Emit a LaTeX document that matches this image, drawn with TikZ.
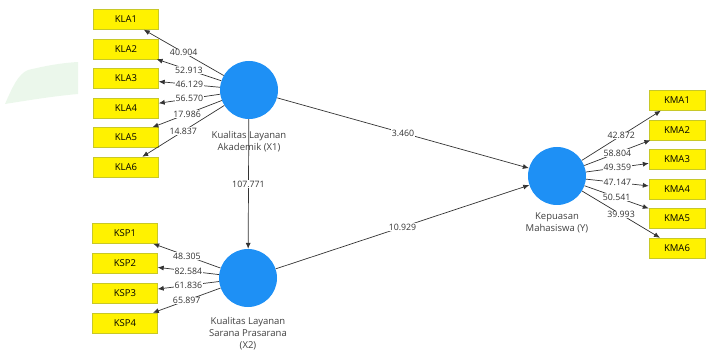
\documentclass[tikz,border=0pt]{standalone}
\usepackage{fontspec}
\setmainfont{Open Sans}
\usetikzlibrary{arrows.meta}
\definecolor{plsblue}{RGB}{30,144,245}
\definecolor{boxedge}{RGB}{200,200,40}
\definecolor{wmgreen}{RGB}{215,240,215}
\begin{document}
\begin{tikzpicture}[x=1pt,y=-1pt,
  lv/.style={circle, fill=plsblue, minimum size=58pt, inner sep=0pt},
  ind/.style={rectangle, fill=yellow, draw=boxedge, line width=0.4pt, minimum height=20pt, inner sep=0pt, font=\fontsize{9.5}{10}\selectfont},
  kla/.style={ind, minimum width=65pt},
  kma/.style={ind, minimum width=56pt},
  coef/.style={fill=white, inner sep=0.6pt, font=\fontsize{8.8}{10}\selectfont, text=black!80},
  conn/.style={draw=black!80, line width=0.7pt, -{Latex[length=6pt,width=5pt]}},
  lvlabel/.style={align=center, anchor=north, inner sep=0pt, font=\fontsize{9.5}{12}\selectfont, text=black!75}]
\useasboundingbox (0,0) rectangle (710,350);
% faint watermark
\fill[wmgreen, opacity=0.5] (5,104) .. controls (12,88) and (18,74) .. (28,70)
  .. controls (45,66) and (60,63) .. (78,62) -- (78,94)
  .. controls (55,96) and (30,100) .. (5,104) -- cycle;
% latent variables
\node[lv] (x1) at (249,90) {};
\node[lv] (x2) at (248,278) {};
\node[lv] (y) at (557,176) {};
\node[lvlabel] (x1l) at (249,131) {Kualitas Layanan\\Akademik (X1)};
\node[lvlabel] (x2l) at (248,317) {Kualitas Layanan\\Sarana Prasarana\\(X2)};
\node[lvlabel] (yl) at (557,213) {Kepuasan\\Mahasiswa (Y)};
% indicators X1
\node[kla] (kla1) at (126,19.5) {KLA1};
\node[kla] (kla2) at (126,49) {KLA2};
\node[kla] (kla3) at (126,78.5) {KLA3};
\node[kla] (kla4) at (126,108) {KLA4};
\node[kla] (kla5) at (126,137.5) {KLA5};
\node[kla] (kla6) at (126,167) {KLA6};
% indicators X2
\node[kla] (ksp1) at (125,233.5) {KSP1};
\node[kla] (ksp2) at (125,263.5) {KSP2};
\node[kla] (ksp3) at (125,293) {KSP3};
\node[kla] (ksp4) at (125,323) {KSP4};
% indicators Y
\node[kma] (kma1) at (677,100.5) {KMA1};
\node[kma] (kma2) at (677,130) {KMA2};
\node[kma] (kma3) at (677,159.5) {KMA3};
\node[kma] (kma4) at (677,189) {KMA4};
\node[kma] (kma5) at (677,218.5) {KMA5};
\node[kma] (kma6) at (677,248) {KMA6};
% outer loadings X1
\draw[conn] (x1) -- node[coef]{40.904} (kla1);
\draw[conn] (x1) -- node[coef]{52.913} (kla2);
\draw[conn] (x1) -- node[coef]{46.129} (kla3);
\draw[conn] (x1) -- node[coef]{56.570} (kla4);
\draw[conn] (x1) -- node[coef]{17.986} (kla5);
\draw[conn] (x1) -- node[coef]{14.837} (kla6);
% outer loadings X2
\draw[conn] (x2) -- node[coef]{48.305} (ksp1);
\draw[conn] (x2) -- node[coef]{82.584} (ksp2);
\draw[conn] (x2) -- node[coef]{61.836} (ksp3);
\draw[conn] (x2) -- node[coef]{65.897} (ksp4);
% outer loadings Y
\draw[conn] (y) -- node[coef]{42.872} (kma1);
\draw[conn] (y) -- node[coef]{58.804} (kma2);
\draw[conn] (y) -- node[coef]{49.359} (kma3);
\draw[conn] (y) -- node[coef]{47.147} (kma4);
\draw[conn] (y) -- node[coef]{50.541} (kma5);
\draw[conn] (y) -- node[coef]{39.993} (kma6);
% structural paths
\draw[conn] (x1) -- node[coef]{107.771} (x2);
\draw[conn] (x1) -- node[coef]{3.460} (y);
\draw[conn] (x2) -- node[coef]{10.929} (y);
\end{tikzpicture}
\end{document}
